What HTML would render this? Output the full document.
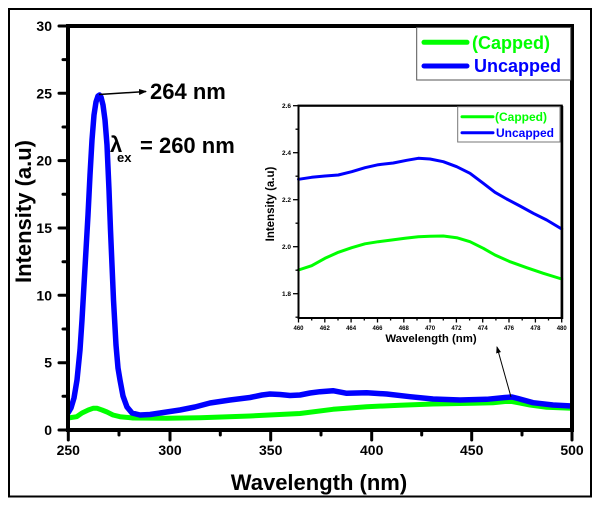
<!DOCTYPE html>
<html><head><meta charset="utf-8"><style>
html,body{margin:0;padding:0;background:#fff;}
svg{display:block;}
text{font-family:"Liberation Sans",Arial,sans-serif;font-weight:bold;}
</style></head><body>
<svg width="601" height="509" viewBox="0 0 601 509" xmlns="http://www.w3.org/2000/svg">
<rect x="0" y="0" width="601" height="509" fill="#fff"/>
<rect x="9" y="9" width="582" height="487.5" fill="none" stroke="#000" stroke-width="2"/>

<!-- main curves -->
<defs><clipPath id="pc"><rect x="68" y="26" width="504" height="404"/></clipPath>
<marker id="ah" markerWidth="8" markerHeight="6" refX="7" refY="3" orient="auto" markerUnits="userSpaceOnUse"><path d="M0,0 L8,3 L0,6 z" fill="#000"/></marker>
<marker id="ah2" markerWidth="7" markerHeight="5" refX="6" refY="2.5" orient="auto" markerUnits="userSpaceOnUse"><path d="M0,0 L7,2.5 L0,5 z" fill="#000"/></marker>
</defs>
<g clip-path="url(#pc)" fill="none" stroke-linejoin="round" stroke-linecap="round">
<polyline stroke="#00ff00" stroke-width="5" points="68,418 76.7,416.7 82,413 88.3,410 93,408.3 97,408.3 102,410 107,412 113,415 120,416.7 133,418 166.7,418.3 200,417.7 250,416 300,413.5 333,409.3 366.7,406.7 400,405.3 433,404 473,403.3 493,402.7 505,401.5 512,401.5 520,403 530,405 546.7,407.3 573,408.3"/>
<polyline stroke="#0000ff" stroke-width="5.5" points="68,413 71,408 74,398 77,380 80,350 82,320 84,285 86,250 88,215 90,175 92,140 94,115 96,102 98,96 99.5,95 101,97 103,105 105,120 107,145 109,190 110.5,230 112,265 113.5,300 116,345 118,368 120,380 123,396 127,407 132,413 140,415 150,414.5 160,413 180,410 195,407 210,403 230,400 250,397.5 262,395 270,394 280,394.5 290,395.5 300,395 310,393 320,391.7 333,390.7 346.7,393.3 366.7,392.7 386.7,394 410,396.7 433,399 460,400 486.7,399.3 505,397.5 512,397 518,398.5 533,402.7 553,405 573,406"/>
</g>

<!-- axes frame -->
<rect x="68" y="26" width="504" height="404" fill="none" stroke="#000" stroke-width="4"/>

<!-- y ticks -->
<g stroke="#000" stroke-width="3" stroke-linecap="round">
<line x1="59" y1="430" x2="68" y2="430"/><line x1="59" y1="362.7" x2="68" y2="362.7"/><line x1="59" y1="295.3" x2="68" y2="295.3"/><line x1="59" y1="228" x2="68" y2="228"/><line x1="59" y1="160.6" x2="68" y2="160.6"/><line x1="59" y1="93.3" x2="68" y2="93.3"/><line x1="59" y1="26" x2="68" y2="26"/>
<line x1="63" y1="396.3" x2="68" y2="396.3"/><line x1="63" y1="329" x2="68" y2="329"/><line x1="63" y1="261.7" x2="68" y2="261.7"/><line x1="63" y1="194.3" x2="68" y2="194.3"/><line x1="63" y1="127" x2="68" y2="127"/><line x1="63" y1="59.6" x2="68" y2="59.6"/>
<!-- x ticks -->
<line x1="68.3" y1="430" x2="68.3" y2="440"/><line x1="170" y1="430" x2="170" y2="440"/><line x1="270.7" y1="430" x2="270.7" y2="440"/><line x1="371.7" y1="430" x2="371.7" y2="440"/><line x1="471.7" y1="430" x2="471.7" y2="440"/><line x1="572" y1="430" x2="572" y2="440"/>
<line x1="119" y1="430" x2="119" y2="435"/><line x1="220.3" y1="430" x2="220.3" y2="435"/><line x1="321" y1="430" x2="321" y2="435"/><line x1="421.7" y1="430" x2="421.7" y2="435"/><line x1="522" y1="430" x2="522" y2="435"/>
</g>

<g font-size="14" text-anchor="end" fill="#000">
<text x="52" y="435">0</text><text x="52" y="367.7">5</text><text x="52" y="300.3">10</text><text x="52" y="233">15</text><text x="52" y="165.6">20</text><text x="52" y="98.3">25</text><text x="52" y="31">30</text>
</g>
<g font-size="14" text-anchor="middle" fill="#000">
<text x="68.3" y="455">250</text><text x="170" y="455">300</text><text x="270.7" y="455">350</text><text x="371.7" y="455">400</text><text x="471.7" y="455">450</text><text x="572" y="455">500</text>
</g>
<text x="319" y="490" font-size="22" text-anchor="middle">Wavelength (nm)</text>
<text transform="translate(31,211.5) rotate(-90)" font-size="22" text-anchor="middle">Intensity (a.u)</text>

<!-- annotations -->
<line x1="99" y1="94.5" x2="146" y2="91.5" stroke="#000" stroke-width="1.5" marker-end="url(#ah)"/>
<text x="150" y="99" font-size="22">264 nm</text>
<text x="110" y="152" font-size="22">λ</text>
<text x="117" y="162" font-size="13">ex</text>
<text x="140" y="153" font-size="22">= 260 nm</text>

<!-- main legend -->
<rect x="416.7" y="27.5" width="154" height="52.5" fill="#fff" stroke="#555" stroke-width="1"/>
<line x1="424" y1="42.3" x2="467" y2="42.3" stroke="#00ff00" stroke-width="5" stroke-linecap="round"/>
<line x1="424" y1="66" x2="467" y2="66" stroke="#0000ff" stroke-width="5" stroke-linecap="round"/>
<text x="472" y="49" font-size="18" fill="#00ff00">(Capped)</text>
<text x="474" y="72" font-size="18" fill="#0000ff">Uncapped</text>

<!-- inset -->
<rect x="298.5" y="105.7" width="263.2" height="212.3" fill="#fff" stroke="#000" stroke-width="2"/>
<g fill="none" stroke-linejoin="round" stroke-linecap="round" stroke-width="3">
<polyline stroke="#0000ff" points="298.5,179.3 311.7,177.3 325,176 338.3,175 351.7,171.7 365,167.7 378.3,164.7 393.3,163 406.7,160.3 418.3,158.3 430,159 443.3,161.7 456.7,166.7 470,173.3 483.3,183.3 495,192.3 506.7,199 520,206 533.3,213.3 546.7,220 561.7,229"/>
<polyline stroke="#00ff00" points="298.5,270 311.7,265.7 325,258.3 338.3,252.3 351.7,247.7 365,243.8 378.3,241.7 391.7,240 405,238.3 418.3,236.7 430,236.2 443.3,236 456.7,237.7 470,241.7 483.3,248.3 495,255 510,261.7 526.7,267.7 543.3,273.3 561.7,279"/>
</g>
<rect x="298.5" y="105.7" width="263.2" height="212.3" fill="none" stroke="#000" stroke-width="2"/>
<line x1="562.5" y1="106" x2="562.5" y2="319" stroke="#000" stroke-width="1.5"/>
<g stroke="#000" stroke-width="1.3">
<line x1="293" y1="105.7" x2="298.5" y2="105.7"/><line x1="293" y1="152.7" x2="298.5" y2="152.7"/><line x1="293" y1="199.7" x2="298.5" y2="199.7"/><line x1="293" y1="246.7" x2="298.5" y2="246.7"/><line x1="293" y1="293.7" x2="298.5" y2="293.7"/>
<line x1="295.5" y1="129.2" x2="298.5" y2="129.2"/><line x1="295.5" y1="176.2" x2="298.5" y2="176.2"/><line x1="295.5" y1="223.2" x2="298.5" y2="223.2"/><line x1="295.5" y1="270.2" x2="298.5" y2="270.2"/><line x1="295.5" y1="317.2" x2="298.5" y2="317.2"/>
<line x1="298.5" y1="318" x2="298.5" y2="322.5"/><line x1="324.8" y1="318" x2="324.8" y2="322.5"/><line x1="351.1" y1="318" x2="351.1" y2="322.5"/><line x1="377.5" y1="318" x2="377.5" y2="322.5"/><line x1="403.8" y1="318" x2="403.8" y2="322.5"/><line x1="430.1" y1="318" x2="430.1" y2="322.5"/><line x1="456.4" y1="318" x2="456.4" y2="322.5"/><line x1="482.7" y1="318" x2="482.7" y2="322.5"/><line x1="509" y1="318" x2="509" y2="322.5"/><line x1="535.4" y1="318" x2="535.4" y2="322.5"/><line x1="561.7" y1="318" x2="561.7" y2="322.5"/>
<line x1="311.7" y1="318" x2="311.7" y2="320.5"/><line x1="338" y1="318" x2="338" y2="320.5"/><line x1="364.3" y1="318" x2="364.3" y2="320.5"/><line x1="390.6" y1="318" x2="390.6" y2="320.5"/><line x1="417" y1="318" x2="417" y2="320.5"/><line x1="443.3" y1="318" x2="443.3" y2="320.5"/><line x1="469.6" y1="318" x2="469.6" y2="320.5"/><line x1="495.9" y1="318" x2="495.9" y2="320.5"/><line x1="522.2" y1="318" x2="522.2" y2="320.5"/><line x1="548.5" y1="318" x2="548.5" y2="320.5"/>
</g>
<g font-size="6.5" text-anchor="end" fill="#000">
<text x="291" y="108">2.6</text><text x="291" y="155">2.4</text><text x="291" y="202">2.2</text><text x="291" y="249">2.0</text><text x="291" y="296">1.8</text>
</g>
<g font-size="6" text-anchor="middle" fill="#000">
<text x="298.5" y="330">460</text><text x="324.8" y="330">462</text><text x="351.1" y="330">464</text><text x="377.5" y="330">466</text><text x="403.8" y="330">468</text><text x="430.1" y="330">470</text><text x="456.4" y="330">472</text><text x="482.7" y="330">474</text><text x="509" y="330">476</text><text x="535.4" y="330">478</text><text x="561.7" y="330">480</text>
</g>
<text x="431" y="342" font-size="11.4" text-anchor="middle">Wavelength (nm)</text>
<text transform="translate(274,204) rotate(-90)" font-size="11.5" text-anchor="middle">Intensity (a.u)</text>

<!-- inset legend -->
<rect x="457.7" y="106.7" width="102.3" height="35.3" fill="#fff" stroke="#777" stroke-width="1"/>
<line x1="462" y1="116.7" x2="493" y2="116.7" stroke="#00ff00" stroke-width="3" stroke-linecap="round"/>
<line x1="462" y1="132.7" x2="493" y2="132.7" stroke="#0000ff" stroke-width="3" stroke-linecap="round"/>
<text x="495" y="121" font-size="12" fill="#00ff00">(Capped)</text>
<text x="496" y="137" font-size="12" fill="#0000ff">Uncapped</text>

<!-- lower arrow -->
<line x1="511" y1="397" x2="497" y2="347" stroke="#000" stroke-width="1" marker-end="url(#ah2)"/>
</svg>
</body></html>
